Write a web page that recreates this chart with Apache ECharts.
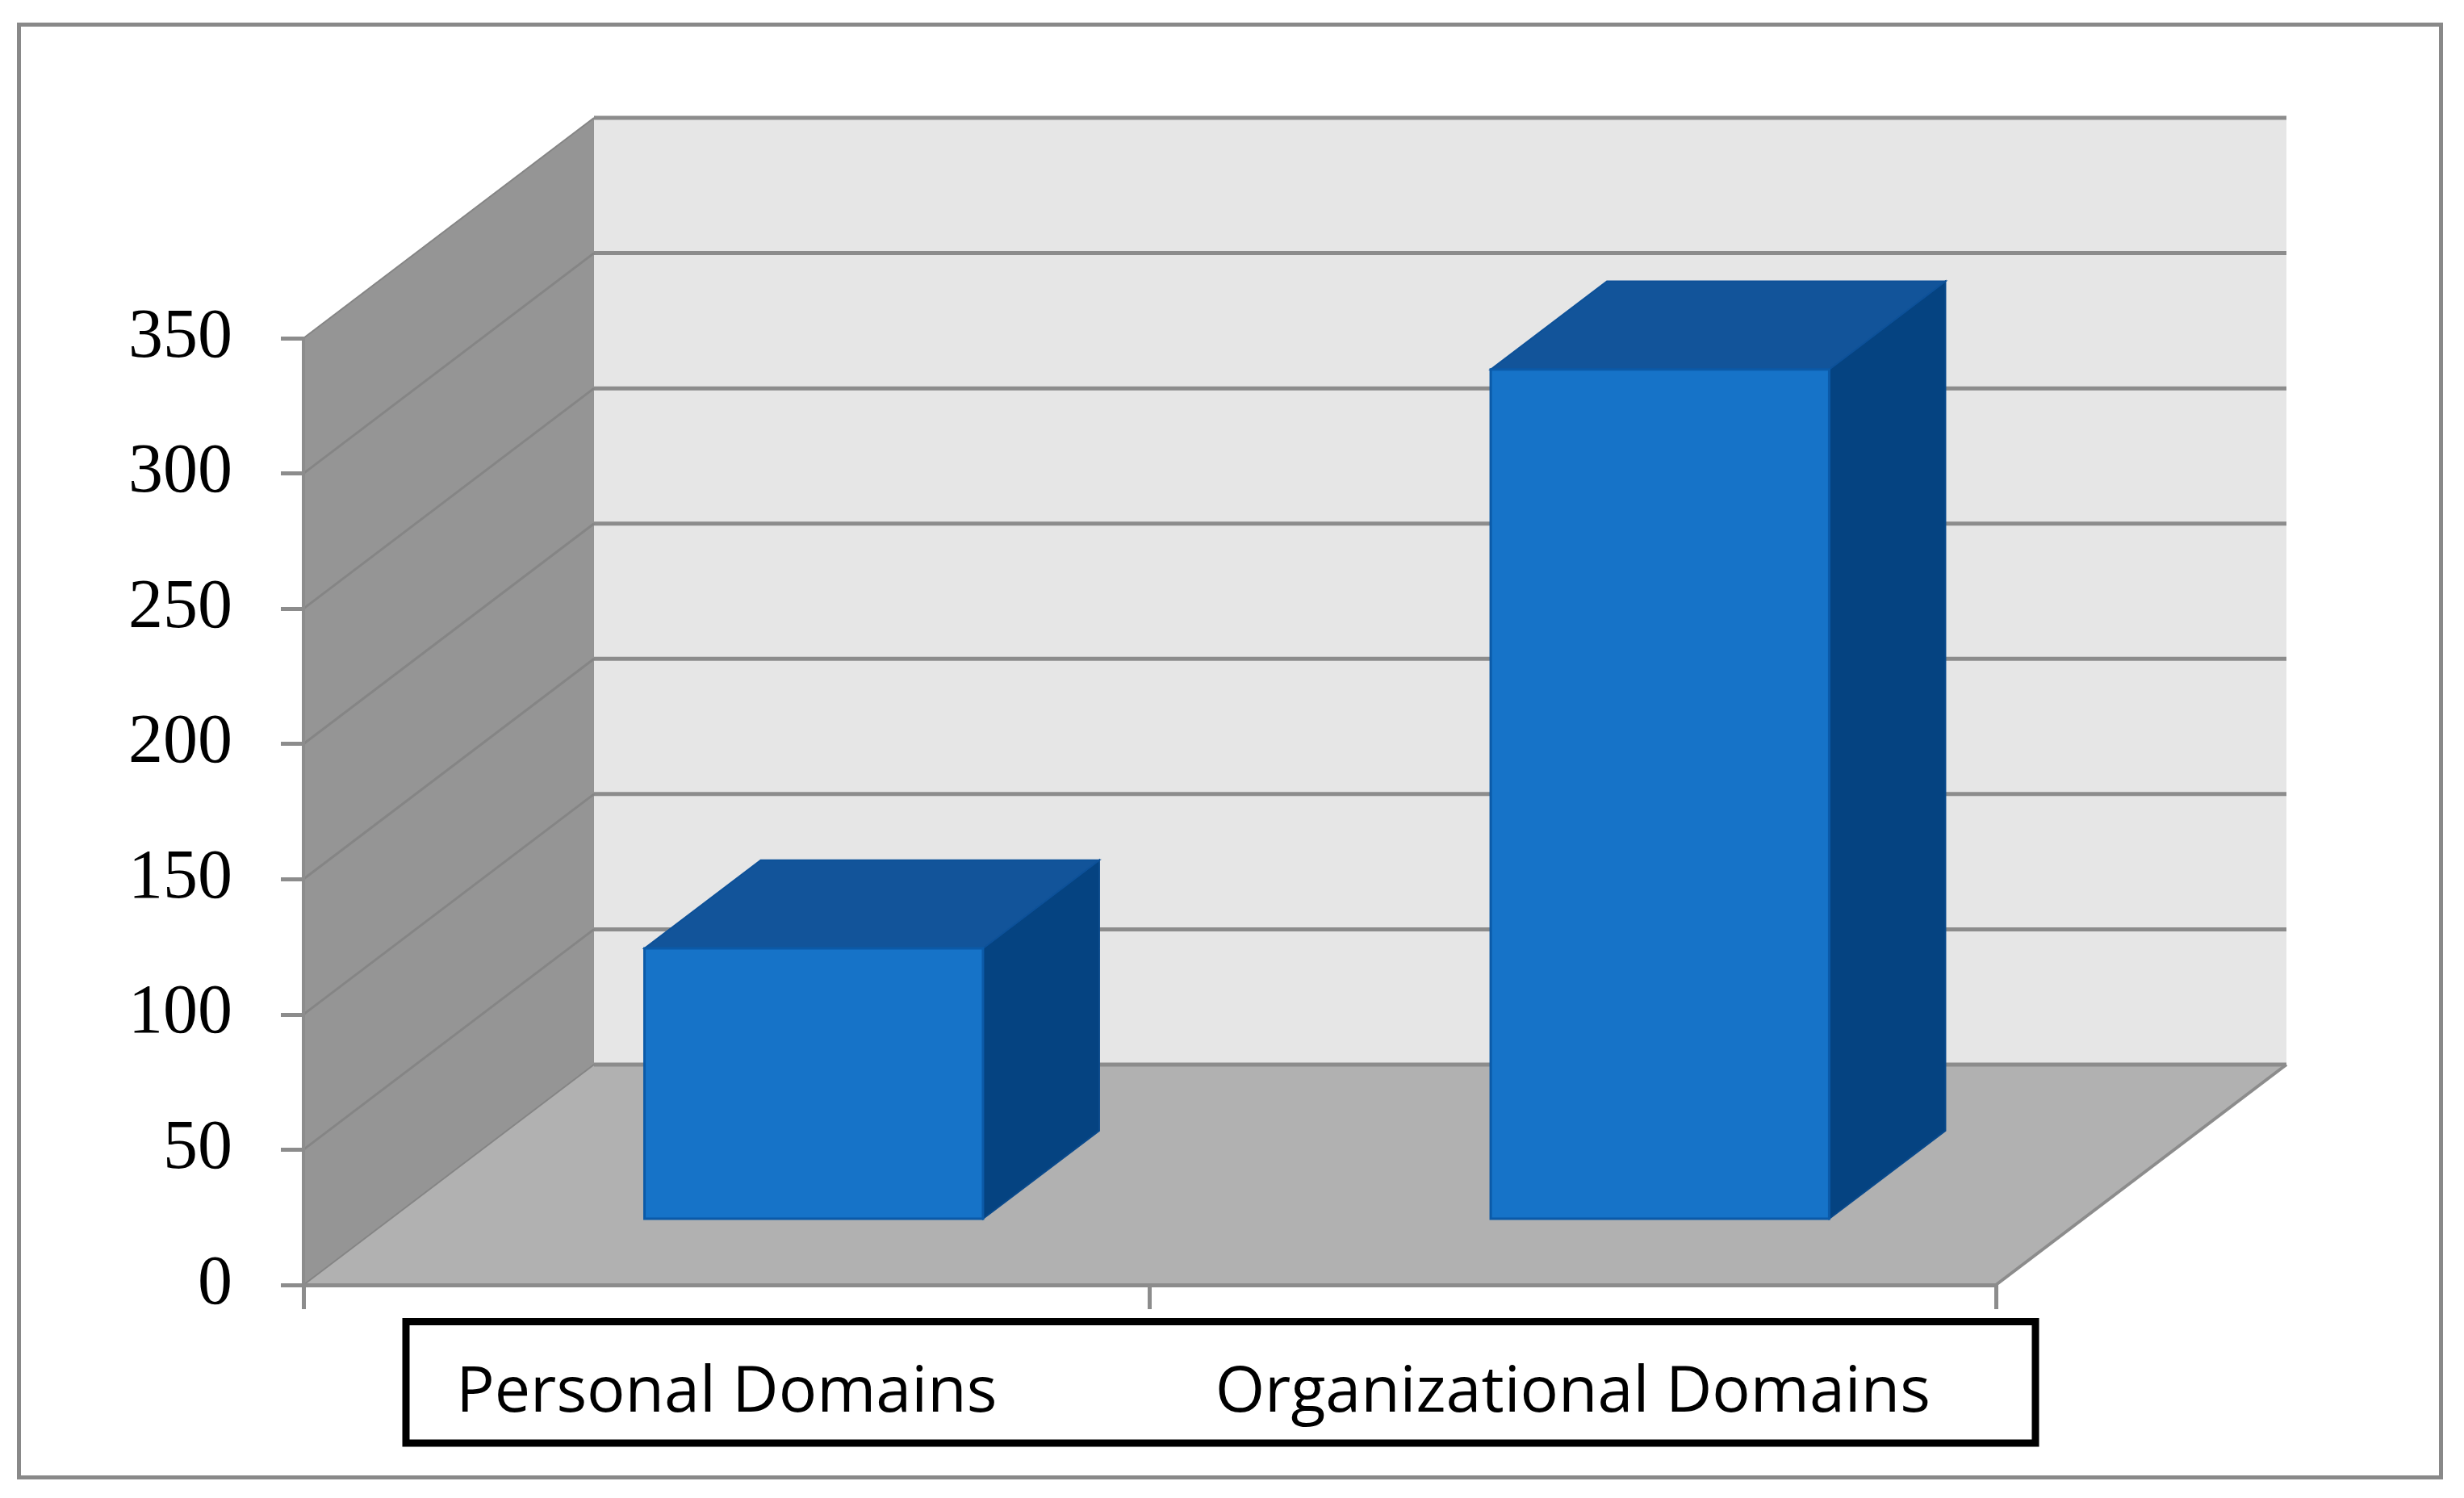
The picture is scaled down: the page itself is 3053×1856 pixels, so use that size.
<!DOCTYPE html>
<html>
<head>
<meta charset="utf-8">
<script src="https://cdn.jsdelivr.net/npm/echarts@6.0.0/dist/echarts.min.js"></script>
<style>
html,body{margin:0;padding:0;background:#ffffff;}
#chart{width:3053px;height:1856px;}
</style>
</head>
<body>
<div id="chart"></div>
<script>
// ---- data ----
const categories = ['Personal Domains', 'Organizational Domains'];
const values = [100, 314];
const yTicks = [0, 50, 100, 150, 200, 250, 300, 350];

// ---- 3D look (style constants) ----
const DX = 360, DY = -273;          // depth offset of the back plane, px
const BAR_FRONT = 0.3, BAR_DEPTH = 0.4, BAR_WIDTH = 0.4;
const GRID_COLOR = '#8c8c8c';

const chart = echarts.init(document.getElementById('chart'), null, {renderer: 'canvas'});

function renderWalls(params, api) {
  const cs = params.coordSys;
  const x0 = cs.x, x1 = cs.x + cs.width;
  const yT = cs.y, yB = cs.y + cs.height;
  const children = [];
  // left wall
  children.push({type: 'polygon', shape: {points: [[x0, yT], [x0 + DX, yT + DY], [x0 + DX, yB + DY], [x0, yB]]},
    style: {fill: '#959595', stroke: '#909090', lineWidth: 1}});
  // back wall
  children.push({type: 'rect', shape: {x: x0 + DX, y: yT + DY, width: cs.width, height: cs.height},
    style: {fill: '#e6e6e6'}});
  // floor
  children.push({type: 'polygon', shape: {points: [[x0, yB], [x1, yB], [x1 + DX, yB + DY], [x0 + DX, yB + DY]]},
    style: {fill: '#b1b1b1'}});
  // grid lines on back wall and left wall
  yTicks.forEach(function (v) {
    const y = api.coord([0, v])[1];
    children.push({type: 'line', shape: {x1: x0 + DX, y1: y + DY, x2: x1 + DX, y2: y + DY},
      style: {stroke: GRID_COLOR, lineWidth: 5}});
    children.push({type: 'line', shape: {x1: x0, y1: y, x2: x0 + DX, y2: y + DY},
      style: {stroke: '#858585', lineWidth: v === 0 || v === yTicks[yTicks.length - 1] ? 2 : 3}});
  });
  // floor right edge
  children.push({type: 'line', shape: {x1: x1, y1: yB, x2: x1 + DX, y2: yB + DY},
    style: {stroke: GRID_COLOR, lineWidth: 4}});
  return {type: 'group', children: children};
}

function renderBar(params, api) {
  const idx = api.value(0);
  const top = api.coord([idx, api.value(1)]);
  const base = api.coord([idx, 0]);
  const bw = api.size([1, 0])[0];
  const w = bw * BAR_WIDTH;
  const fx0 = top[0] - w / 2 + DX * BAR_FRONT;
  const fx1 = fx0 + w;
  const fyT = top[1] + DY * BAR_FRONT;
  const fyB = base[1] + DY * BAR_FRONT;
  const ddx = DX * BAR_DEPTH, ddy = DY * BAR_DEPTH;
  return {
    type: 'group',
    children: [
      {type: 'polygon', shape: {points: [[fx1, fyT], [fx1 + ddx, fyT + ddy], [fx1 + ddx, fyB + ddy], [fx1, fyB]]},
        style: {fill: '#054381', stroke: '#0a4a8c', lineWidth: 2}},
      {type: 'polygon', shape: {points: [[fx0, fyT], [fx1, fyT], [fx1 + ddx, fyT + ddy], [fx0 + ddx, fyT + ddy]]},
        style: {fill: '#12549a', stroke: '#0d5199', lineWidth: 2}},
      {type: 'rect', shape: {x: fx0, y: fyT, width: w, height: fyB - fyT},
        style: {fill: '#1673c8', stroke: '#0b5aa8', lineWidth: 3}}
    ]
  };
}

const option = {
  animation: false,
  backgroundColor: '#ffffff',
  grid: {left: 376, top: 419, width: 2097, height: 1173, containLabel: false},
  xAxis: {
    type: 'category',
    data: categories,
    boundaryGap: true,
    z: 10,
    axisLine: {show: true, lineStyle: {color: GRID_COLOR, width: 5}},
    axisTick: {show: true, length: 30, lineStyle: {color: GRID_COLOR, width: 5}},
    axisLabel: {show: true, interval: 0, margin: 134, verticalAlign: 'middle',
      fontFamily: 'Open Sans', fontSize: 79, color: '#000000'},
    splitLine: {show: false}
  },
  yAxis: {
    type: 'value',
    min: 0, max: 350, interval: 50,
    z: 10,
    axisLine: {show: true, lineStyle: {color: GRID_COLOR, width: 4}},
    axisTick: {show: true, length: 28, lineStyle: {color: GRID_COLOR, width: 5}},
    axisLabel: {show: true, margin: 88, fontFamily: 'Liberation Serif', fontSize: 86, color: '#000000'},
    splitLine: {show: false}
  },
  graphic: [
    {type: 'rect', z: 100, shape: {x: 23.5, y: 30.5, width: 3001, height: 1800},
      style: {fill: 'none', stroke: '#898989', lineWidth: 5}},
    {type: 'rect', z: 100, shape: {x: 503, y: 1637.5, width: 2019, height: 150.5},
      style: {fill: 'none', stroke: '#000000', lineWidth: 9}}
  ],
  series: [
    {type: 'custom', name: 'walls', z: 1, clip: false, silent: true,
      data: [[0, 0]], renderItem: renderWalls},
    {type: 'custom', name: 'bars', z: 2, clip: false,
      data: values.map(function (v, i) { return [i, v]; }), renderItem: renderBar}
  ]
};
chart.setOption(option);
</script>
</body>
</html>
